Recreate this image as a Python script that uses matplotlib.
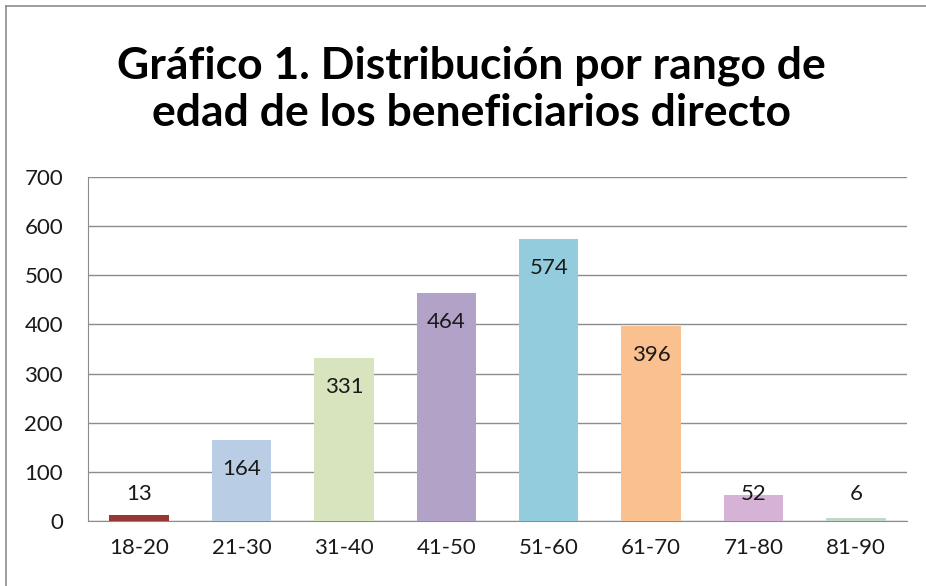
import matplotlib.pyplot as plt
from matplotlib.lines import Line2D
import numpy as np

# Datos
rangos = ['18-20', '21-30', '31-40', '41-50', '51-60', '61-70', '71-80', '81-90']
beneficiarios = [13, 164, 331, 464, 574, 396, 52, 6]
colores = ['#953735', '#B9CDE5', '#D7E4BD', '#B3A2C7', '#93CDDD', '#FAC090', '#D6B2D6', '#C3D6C8']

plt.rcParams['font.family'] = ['Lato', 'DejaVu Sans']

fig = plt.figure(figsize=(9.26, 5.86), dpi=100)
ax = fig.add_axes([88 / 926, 1 - 521 / 586, (907 - 88) / 926, (521 - 177) / 586])

x = np.arange(len(rangos))
ax.bar(x, beneficiarios, width=0.58, color=colores, zorder=3)

# etiquetas de datos (Excel: extremo interno)
for xi, v in zip(x, beneficiarios):
    ax.text(xi, max(v - 59, 55), str(v), ha='center', va='center',
            fontsize=16, color='#1a1a1a', zorder=4)

ax.set_xlim(-0.5, len(rangos) - 0.5)
ax.set_ylim(0, 700)
ax.set_yticks(range(0, 701, 100))
ax.set_xticks(x)
ax.set_xticklabels(rangos)
ax.tick_params(axis='both', length=0, labelsize=16, colors='#1a1a1a')
ax.tick_params(axis='x', pad=12)
ax.tick_params(axis='y', pad=18)
ax.grid(axis='y', color='#8c8c8c', linewidth=1.0, zorder=0)

for side in ['top', 'right']:
    ax.spines[side].set_visible(False)
ax.spines['left'].set_color('#8c8c8c')
ax.spines['bottom'].set_color('#8c8c8c')

fig.text(471 / 926, 1 - 89 / 586, 'Gráfico 1. Distribución por rango de\nedad de los beneficiarios directo',
         ha='center', va='center', fontsize=32, fontweight='bold', linespacing=1.2, color='black')

# borde del area del grafico
fig.add_artist(Line2D([5.5 / 926, 5.5 / 926], [0, 1 - 5.5 / 586], transform=fig.transFigure,
                      color='#8c8c8c', linewidth=1.2))
fig.add_artist(Line2D([5.5 / 926, 1], [1 - 5.5 / 586, 1 - 5.5 / 586], transform=fig.transFigure,
                      color='#8c8c8c', linewidth=1.2))

fig.savefig('out.png', dpi=100)
